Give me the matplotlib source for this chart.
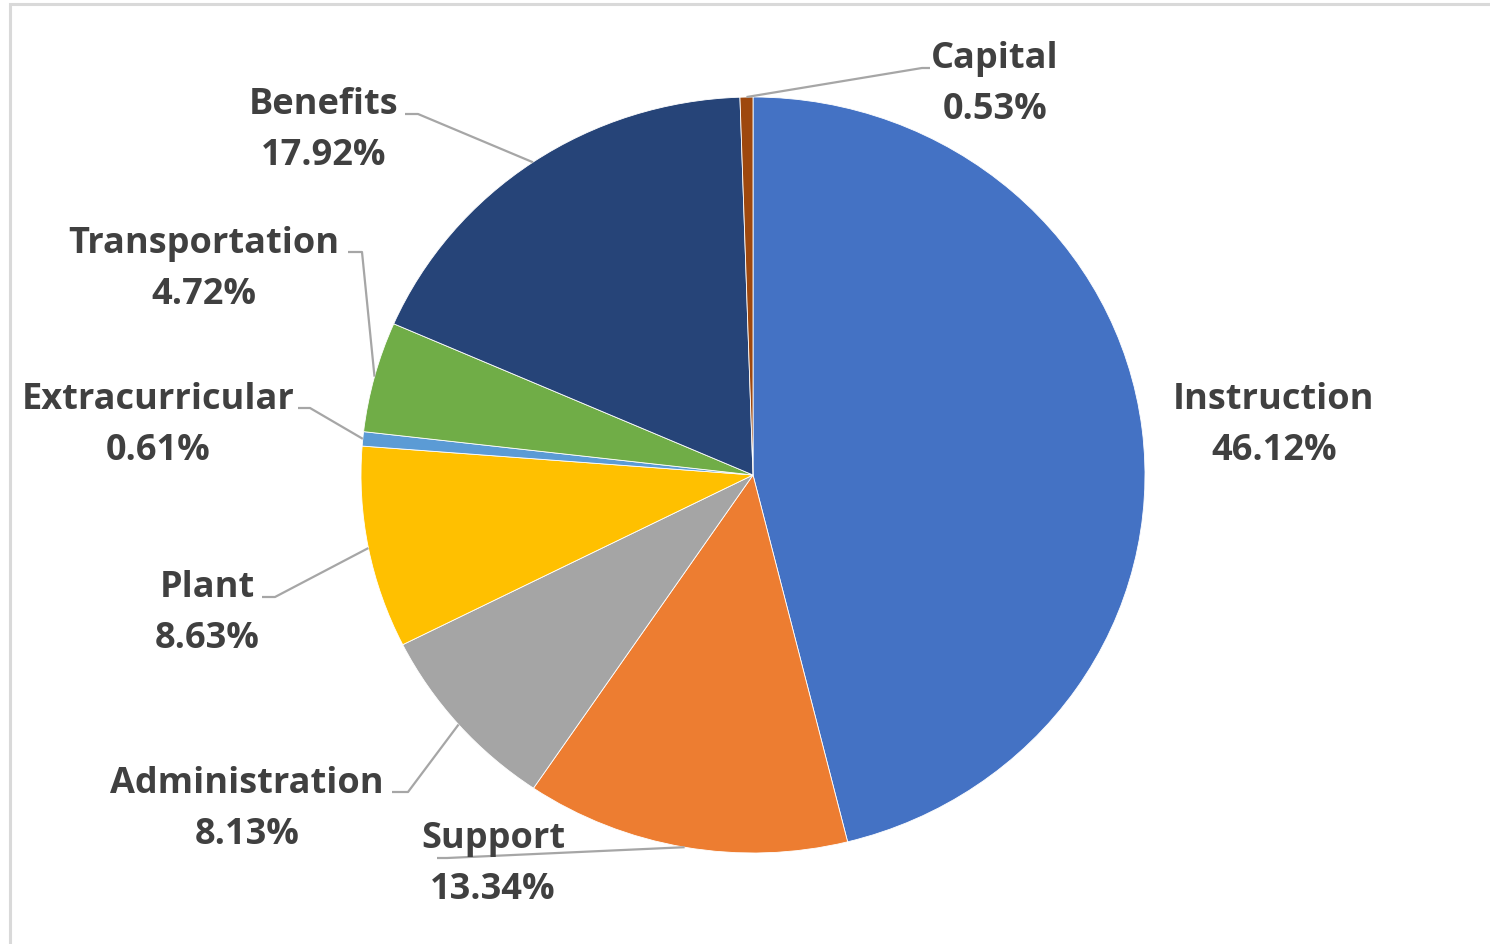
import numpy as np
import matplotlib
matplotlib.use("Agg")
import matplotlib.pyplot as plt
from matplotlib.patches import Rectangle

# ---- data ----
categories = ["Instruction", "Support", "Administration", "Plant",
              "Extracurricular", "Transportation", "Benefits", "Capital"]
shares = [46.12, 13.34, 8.13, 8.63, 0.61, 4.72, 17.92, 0.53]
pct_labels = ["46.12%", "13.34%", "8.13%", "8.63%", "0.61%", "4.72%", "17.92%", "0.53%"]

# ---- style ----
colors = ["#4472C4", "#ED7D31", "#A5A5A5", "#FFC000",
          "#5B9BD5", "#70AD47", "#264478", "#9E480E"]
text_color = "#404040"
line_color = "#A6A6A6"

W, H = 1490, 944
CX, CY, RX, RY = 753, 475, 392, 378   # pie centre / radii in pixels

# label layout in pixels: (centre x, baseline of first line), and leader elbow (x, y, end x) or None
label_pos = {
    "Instruction": (1274, 409, None),
    "Support": (493, 848, (447, 858, 437)),
    "Administration": (247, 793, (408, 792, 392)),
    "Plant": (207, 597, (275, 597, 262)),
    "Extracurricular": (158, 409, (310, 408, 298)),
    "Transportation": (204, 253, (362, 252, 348)),
    "Benefits": (324, 114, (418, 114, 405)),
    "Capital": (995, 68, (922, 68, 930)),
}
line_gap = 51

plt.rcParams['font.family'] = ['Open Sans', 'DejaVu Sans']

fig = plt.figure(figsize=(W / 100, H / 100), dpi=100)
fig.patch.set_facecolor("white")

# frame (only top and left visible in the reference)
fig.patches.append(Rectangle((10 / W, -0.1), 1.2, (H - 4) / H + 0.1,
                             transform=fig.transFigure, fill=False,
                             edgecolor="#D9D9D9", linewidth=2.2))

ax = fig.add_axes([(CX - RX) / W, (H - (CY + RY)) / H, 2 * RX / W, 2 * RY / H])
wedges, _ = ax.pie(shares, colors=colors, startangle=90, counterclock=False,
                   radius=1.0, wedgeprops=dict(edgecolor="white", linewidth=0.6))
ax.set_aspect("auto")
ax.set_xlim(-1, 1)
ax.set_ylim(-1, 1)
ax.axis("off")


def px2data(px, py):
    return (px - CX) / RX, (CY - py) / RY


cum = 0.0
total = sum(shares)
for name, val, pct in zip(categories, shares, pct_labels):
    mid = (cum + val / 2) / total * 360.0
    cum += val
    theta = np.deg2rad(90 - mid)
    ex, ey = np.cos(theta), np.sin(theta)
    lx, lby, elbow = label_pos[name]
    tx, ty1 = px2data(lx, lby)
    _, ty2 = px2data(lx, lby + line_gap)
    ax.text(tx, ty1, name, ha="center", va="baseline", fontsize=26,
            fontweight="bold", color=text_color, clip_on=False)
    ax.text(tx, ty2, pct, ha="center", va="baseline", fontsize=26,
            fontweight="bold", color=text_color, clip_on=False)
    if elbow is not None:
        bx, by = px2data(elbow[0], elbow[1])
        hx, _ = px2data(elbow[2], elbow[1])
        ax.plot([ex, bx, hx], [ey, by, by], color=line_color, lw=1.6,
                clip_on=False, solid_capstyle="butt")

fig.savefig("out.png", dpi=100, facecolor="white")
